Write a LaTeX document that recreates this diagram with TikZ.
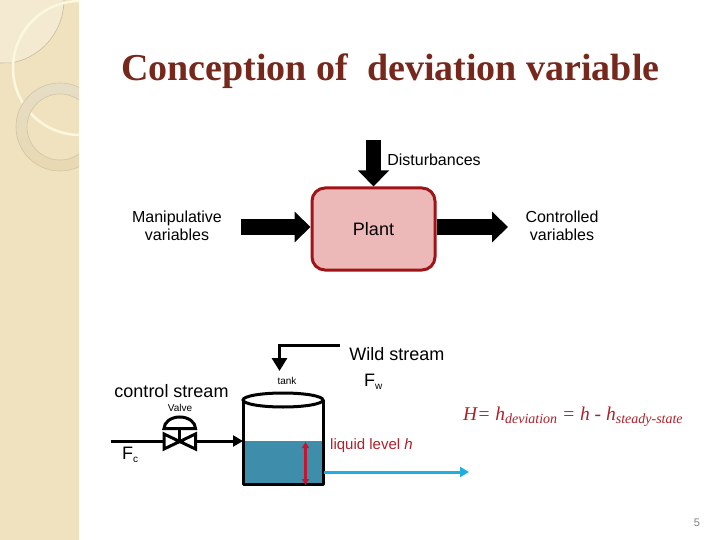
\documentclass[tikz,border=0pt]{standalone}
\usepackage{fontspec}
\setmainfont{Liberation Sans}
\newfontfamily\titlefont{Liberation Serif}
\usetikzlibrary{arrows.meta,shapes.geometric}
\definecolor{strip}{HTML}{F1E2BF}
\definecolor{stripl}{HTML}{F4EAD2}
\definecolor{stripe}{HTML}{C9BC9A}
\definecolor{ringc}{HTML}{E6DDC6}
\definecolor{ringd}{HTML}{E8D9B2}
\definecolor{ringe}{HTML}{CFC4A4}
\definecolor{creamw}{HTML}{FDF7DF}
\definecolor{titlec}{HTML}{76281C}
\definecolor{plantf}{HTML}{EDB8B8}
\definecolor{plantd}{HTML}{A01418}
\definecolor{waterc}{HTML}{3E8DAA}
\definecolor{redc}{HTML}{C4162E}
\definecolor{bluec}{HTML}{1FAEE0}
\definecolor{formc}{HTML}{B0202A}
\tikzset{
 lab/.style={inner sep=0pt,font=\fontsize{16}{18}\selectfont,align=center},
 bigl/.style={inner sep=0pt,font=\fontsize{18}{20}\selectfont},
 tiny/.style={inner sep=0pt,font=\fontsize{10}{11}\selectfont},
 blockarrow/.style={line width=15pt,-{Triangle[length=16pt,width=30pt]}},
 flow/.style={line width=3pt,-{Triangle[length=10pt,width=11pt]}},
 valve/.style={line width=3pt,line join=miter},
}
\begin{document}
\begin{tikzpicture}[x=1pt,y=-1pt]
\useasboundingbox (0,0) rectangle (720,540);
\fill[white] (0,0) rectangle (720,540);
% decorative strip
\fill[strip] (0,0) rectangle (79,540);
\begin{scope}
\clip (0,0) rectangle (79,540);
\fill[stripl] (0,0) -- (64,0) arc[start angle=0,end angle=79,radius=64] -- (0,63) -- cycle;
\draw[stripe,line width=.6pt] (64,0) arc[start angle=0,end angle=79,radius=64] -- (0,63);
\draw[creamw,line width=2.5pt] (80,68) circle[radius=67];
\shade[top color=ringc,bottom color=ringd,even odd rule] (60,127) circle[radius=44] (60,127) circle[radius=33];
\draw[ringe,line width=.6pt] (60,127) circle[radius=44] (60,127) circle[radius=33];
\end{scope}
% title
\node[inner sep=0pt,anchor=base west,text=titlec,font=\titlefont\bfseries\fontsize{38}{42}\selectfont] (title) at (121,81) {Conception of\ \ deviation variable};
% block diagram
\node[draw=plantd,fill=plantf,line width=3pt,rounded corners=13pt,minimum width=123pt,minimum height=82pt,inner sep=0pt,font=\fontsize{18}{20}\selectfont] (plant) at (373.5,229) {Plant};
\coordinate (dist) at (373.5,140);
\coordinate (mani) at (241,227);
\coordinate (ctrl) at (508,227);
\draw[blockarrow] (dist) -- (plant.north);
\draw[blockarrow] (mani) -- (mani -| plant.west);
\draw[blockarrow] (ctrl -| plant.east) -- (ctrl);
\node[lab] (ldist) at (434,159.5) {Disturbances};
\node[lab] (lmani) at (177,226) {Manipulative\\variables};
\node[lab] (lctrl) at (562,226) {Controlled\\variables};
% tank
\fill[waterc] (243,441) rectangle (323,484);
\draw[line width=3pt,line join=round] (243,400) -- (243,484) -- (323,484) -- (323,400);
\node[draw,line width=3pt,ellipse,minimum width=80pt,minimum height=14pt,inner sep=0pt] (tank) at (283,400) {};
% level arrow
\coordinate (lvt) at (305.5,442);
\coordinate (lvb) at (305.5,485);
\draw[redc,line width=2.5pt,{Triangle[length=6pt,width=7pt]}-{Triangle[length=6pt,width=7pt]}] (lvt) -- (lvb);
% outflow
\coordinate (outs) at (324,472);
\coordinate (oute) at (469,472);
\draw[bluec,line width=3pt,-{Triangle[length=9pt,width=10pt]}] (outs) -- (oute);
% wild stream
\coordinate (ws) at (340,345);
\coordinate (we) at (279.5,371);
\draw[flow,-{Triangle[length=13pt,width=15pt]}] (ws) -| (we);
% control stream
\coordinate (cs) at (111,441);
\coordinate (ce) at (243,441);
\node[inner sep=0pt,minimum size=0pt] (vc) at (179.5,441) {};
\draw[line width=3pt] (cs) -- (164,441);
\draw[flow] (195,441) -- (ce);
\draw[valve,fill=white] (164,434) -- (195.5,449) -- (195.5,434) -- (164,449) -- cycle;
\draw[line width=3pt] (vc) -- (179.5,428);
\draw[line width=3pt] (164,428.5) -- (195.5,428.5) arc[start angle=0,end angle=-180,x radius=15.75,y radius=11.5] -- cycle;
% labels
\node[bigl] (lcs) at (171.5,391) {control stream};
\node[tiny] (lval) at (180,408) {Valve};
\node[tiny] (ltank) at (287,381) {tank};
\node[bigl] (lws) at (397,354) {Wild stream};
\node[inner sep=0pt,anchor=base west,font=\fontsize{18}{20}\selectfont] (lfw) at (364,386) {F\raisebox{-3pt}{\fontsize{10}{11}\selectfont w}};
\node[inner sep=0pt,anchor=base west,font=\fontsize{18}{20}\selectfont] (lfc) at (122,459) {F\raisebox{-3pt}{\fontsize{10}{11}\selectfont c}};
\node[inner sep=0pt,anchor=base west,text=formc,font=\fontsize{15}{16}\selectfont] (lliq) at (330,449) {liquid level \textit{h}};
\node[inner sep=0pt,anchor=base west,text=formc,font=\titlefont\itshape\fontsize{19.5}{21}\selectfont] (lform) at (463,420) {H= h\raisebox{-3pt}{\fontsize{14}{15}\selectfont deviation} = h - h\raisebox{-3pt}{\fontsize{14}{15}\selectfont steady-state}};
\node[inner sep=0pt,text=black!50,font=\fontsize{11}{12}\selectfont] (pg) at (697,523) {5};
\end{tikzpicture}
\end{document}
